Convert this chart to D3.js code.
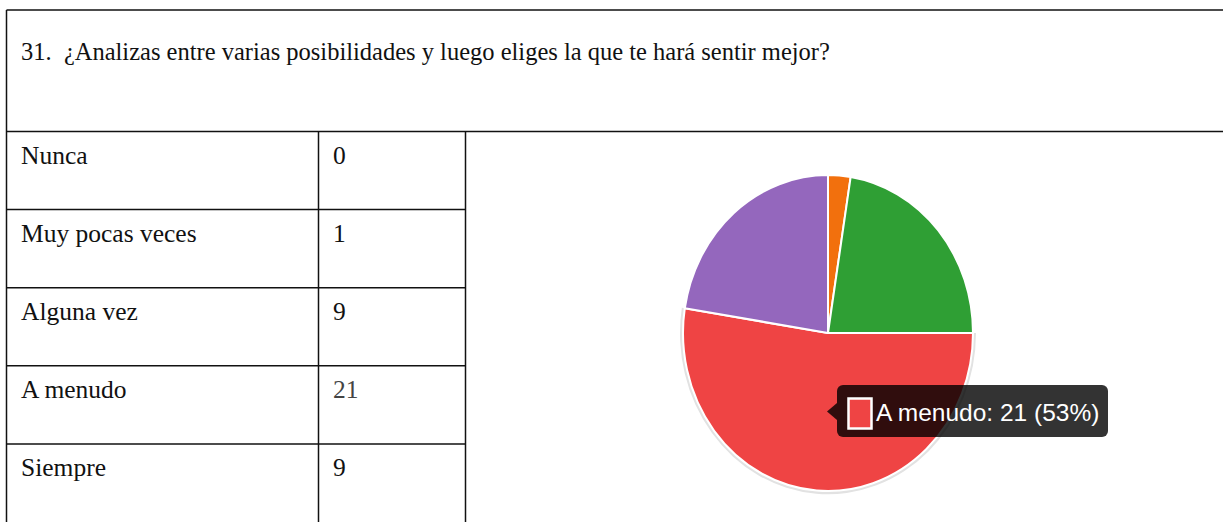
<!DOCTYPE html>
<html>
<head>
<meta charset="utf-8">
<script src="https://cdn.jsdelivr.net/npm/d3@7"></script>
<style>
  html, body { margin: 0; padding: 0; background: #fff; }
  svg { display: block; }
</style>
</head>
<body>
<svg id="chart" width="1223" height="522"></svg>
<script>
const title = "31.  ¿Analizas entre varias posibilidades y luego eliges la que te hará sentir mejor?";
const categories = ["Nunca", "Muy pocas veces", "Alguna vez", "A menudo", "Siempre"];
const values = [0, 1, 9, 21, 9];
const colors = ["#3b78e7", "#f2700d", "#2f9f34", "#ef4444", "#9467bd"];
const highlighted = "A menudo";

const svg = d3.select("#chart");
const W = 1223, H = 522;
svg.append("rect").attr("width", W).attr("height", H).attr("fill", "#fff");

const leftX = 6.5, topY = 10, headerBottom = 131.5, col1 = 318.5, col2 = 465.5;
const rowY = d3.scaleBand().domain(categories).range([headerBottom, H]);

const lines = svg.append("g").attr("stroke", "#111").attr("stroke-width", 1.5);
lines.append("line").attr("x1", leftX).attr("x2", W).attr("y1", topY).attr("y2", topY);
lines.append("line").attr("x1", leftX).attr("x2", leftX).attr("y1", topY).attr("y2", H);
lines.append("line").attr("x1", leftX).attr("x2", W).attr("y1", headerBottom).attr("y2", headerBottom);
lines.append("line").attr("x1", col1).attr("x2", col1).attr("y1", headerBottom).attr("y2", H);
lines.append("line").attr("x1", col2).attr("x2", col2).attr("y1", headerBottom).attr("y2", H);
categories.slice(1).forEach(c => {
  lines.append("line").attr("x1", leftX).attr("x2", col2)
    .attr("y1", rowY(c)).attr("y2", rowY(c));
});

svg.append("text").attr("x", 21).attr("y", 60)
  .attr("font-family", "'Liberation Serif', 'Times New Roman', serif")
  .attr("font-size", 24.5).attr("fill", "#111")
  .style("white-space", "pre")
  .text(title);

const rows = svg.append("g")
  .attr("font-family", "'Liberation Serif', 'Times New Roman', serif")
  .attr("font-size", 25.5);
categories.forEach((c, i) => {
  rows.append("text").attr("x", 21).attr("y", rowY(c) + 32).attr("fill", "#111").text(c);
  rows.append("text").attr("x", 333).attr("y", rowY(c) + 32)
    .attr("fill", c === highlighted ? "#444" : "#111").text(values[i]);
});

// Pie
const cx = 828, cy = 333, r = 145, ry = 158;
const pieData = d3.pie().sort(null).value(d => d.v)(categories.map((c, i) => ({c, v: values[i], col: colors[i]})));
const arc = d3.arc().innerRadius(0).outerRadius(r);
const ring = d3.arc().innerRadius(r).outerRadius(r + 3);
const pg = svg.append("g").attr("transform", `translate(${cx},${cy}) scale(1,${ry / r})`);
pieData.filter(d => d.data.c === highlighted).forEach(d => {
  pg.append("path").attr("d", ring(d)).attr("fill", "#e2e2e2");
});
pg.selectAll("path.slice").data(pieData.filter(d => d.value > 0)).join("path")
  .attr("class", "slice")
  .attr("d", arc)
  .attr("fill", d => d.data.col)
  .attr("stroke", "#fff").attr("stroke-width", 2).attr("stroke-linejoin", "round");

// Tooltip
const total = d3.sum(values);
const hi = categories.indexOf(highlighted);
const tip = svg.append("g");
tip.append("path")
  .attr("d", "M837,403 L827,411.5 L837,420 Z")
  .attr("fill", "rgba(0,0,0,0.8)");
tip.append("rect").attr("x", 837).attr("y", 385).attr("width", 271).attr("height", 52)
  .attr("rx", 6).attr("fill", "rgba(0,0,0,0.8)");
tip.append("rect").attr("x", 848.5).attr("y", 398.5).attr("width", 23).attr("height", 30)
  .attr("fill", colors[hi]).attr("stroke", "#fff").attr("stroke-width", 2.5);
tip.append("text").attr("x", 876).attr("y", 421)
  .attr("font-family", "'Liberation Sans', Arial, sans-serif")
  .attr("font-size", 24.5).attr("fill", "#fff")
  .text(`${highlighted}: ${values[hi]} (${Math.round(values[hi] / total * 100)}%)`);
</script>
</body>
</html>
